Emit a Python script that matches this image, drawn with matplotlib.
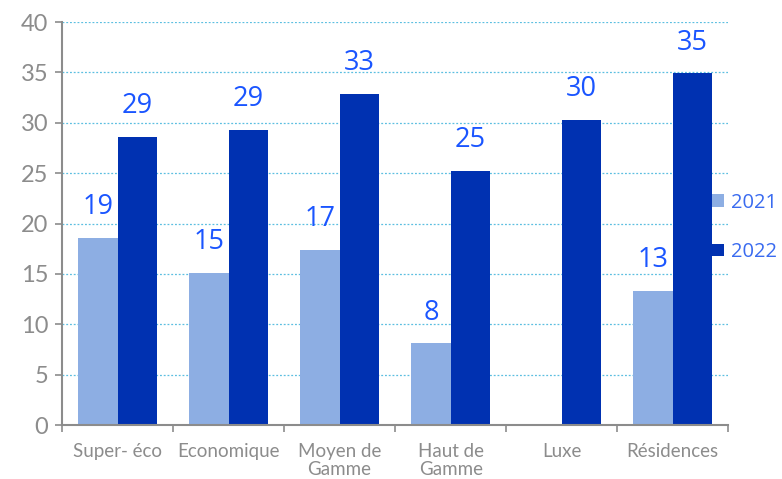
#!/usr/bin/env python3
import numpy as np
from matplotlib import pyplot as plt

# categories and values
categories = ['Super- éco', 'Economique', 'Moyen de\nGamme', 'Haut de\nGamme', 'Luxe', 'Résidences']
val_2021 = [18.6, 15.1, 17.4, 8.1, np.nan, 13.3]
val_2022 = [28.6, 29.3, 32.9, 25.2, 30.3, 34.9]
years = ['2021', '2022']

colour = ['#8DAEE3', '#0031B1']
label_col = '#1A55FF'
grey = '#8C8C8C'

plt.rcParams['font.family'] = ['Lato', 'DejaVu Sans']

fig = plt.figure(figsize=(7.82, 4.79), dpi=100)
ax = fig.add_axes([0.0793, 0.1127, 0.852, 0.8413])

x = np.arange(len(categories))
w = 0.355
b1 = ax.bar(x - w/2, val_2021, w, color=colour[0], label=years[0])
b2 = ax.bar(x + w/2, val_2022, w, color=colour[1], label=years[1])

# data labels
for bars, vals in ((b1, val_2021), (b2, val_2022)):
    for rect, v in zip(bars, vals):
        if np.isnan(v):
            continue
        ax.annotate(f'{v:.0f}', (rect.get_x() + rect.get_width()/2, v),
                    xytext=(0, 12), textcoords='offset points',
                    ha='center', va='bottom', fontsize=19.5, color=label_col,
                    family=['Open Sans', 'DejaVu Sans'])

ax.set_xlim(-0.5, len(categories) - 0.5)
ax.set_ylim(0, 40)
ax.set_yticks(np.arange(0, 41, 5))
ax.yaxis.grid(True, linestyle=(0, (1.5, 1.5)), color='#5BBFE0', linewidth=0.9)
ax.set_axisbelow(True)

# ticks between categories, labels at centres
ax.set_xticks(np.arange(-0.5, len(categories), 1))
ax.set_xticklabels([])
ax.set_xticks(x, minor=True)
ax.set_xticklabels(categories, minor=True, fontsize=13.5, color=grey, linespacing=1.1)
ax.tick_params(axis='x', which='minor', length=0, pad=13)
ax.tick_params(axis='x', which='major', length=5, color=grey, width=1.2)
ax.tick_params(axis='y', length=5, color=grey, width=1.2, labelsize=17, labelcolor=grey, pad=5)

for s in ['top', 'right']:
    ax.spines[s].set_visible(False)
for s in ['left', 'bottom']:
    ax.spines[s].set_color(grey)
    ax.spines[s].set_linewidth(1.5)

leg = fig.legend(loc='center left', bbox_to_anchor=(0.9, 0.525), frameon=False,
                 handlelength=0.6, handleheight=0.6, handletextpad=0.35,
                 labelspacing=1.45, borderaxespad=0,
                 prop={'family': ['Open Sans', 'DejaVu Sans'], 'size': 14.5})
for t in leg.get_texts():
    t.set_color('#3A6BF0')

plt.savefig('out.png', dpi=100)
